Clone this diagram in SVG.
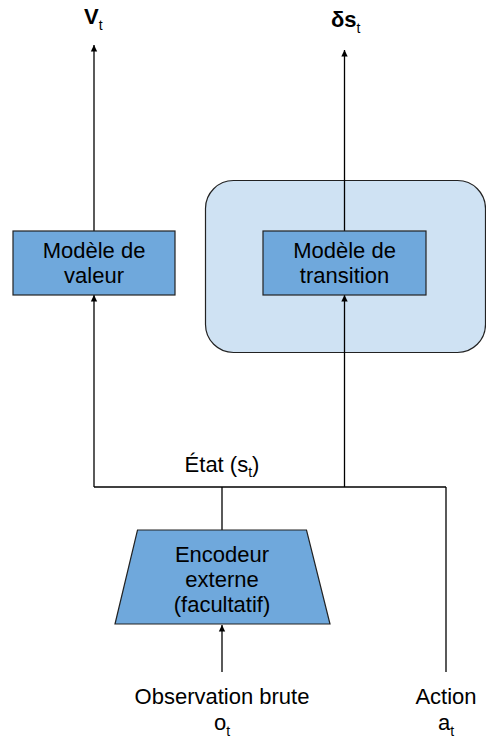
<svg xmlns="http://www.w3.org/2000/svg" width="486" height="740" viewBox="0 0 486 740">
  <defs>
    <marker id="arrowHead" viewBox="0 0 8 10" refX="8" refY="5" markerWidth="8" markerHeight="8" orient="auto" markerUnits="userSpaceOnUse">
      <path d="M0,1 L8,5 L0,9 z" fill="#000"/>
    </marker>
  </defs>
  <style>
    .lbl { font-family: "Liberation Sans", Arial, sans-serif; font-size: 22px; fill: #000; text-anchor: middle; }
    .title { font-family: "Liberation Sans", Arial, sans-serif; font-size: 22px; font-weight: bold; fill: #000; }
    .sub { font-size: 14px; font-weight: normal; }
    .box { fill: #6fa8dc; stroke: #222; stroke-width: 1.2; }
    .group { fill: #cfe2f3; stroke: #222; stroke-width: 1.2; }
    .wire { fill: none; stroke: #000; stroke-width: 1.3; }
  </style>

  <rect x="0" y="0" width="486" height="740" fill="#fff"/>

  <!-- container around the transition model -->
  <g id="transition-group">
    <rect class="group" x="205.5" y="180.5" width="280" height="172" rx="28" ry="28"/>
  </g>

  <!-- connectors -->
  <g id="connectors">
    <!-- outputs -->
    <line class="wire" x1="94" y1="231" x2="94" y2="45" marker-end="url(#arrowHead)"/>
    <line class="wire" x1="344.5" y1="231" x2="344.5" y2="50" marker-end="url(#arrowHead)"/>
    <!-- state bus -->
    <polyline class="wire" points="94,487 446,487"/>
    <line class="wire" x1="94" y1="487" x2="94" y2="295" marker-end="url(#arrowHead)"/>
    <line class="wire" x1="344.5" y1="487" x2="344.5" y2="295" stroke-width="2" marker-end="url(#arrowHead)"/>
    <line class="wire" x1="222" y1="487" x2="222" y2="530"/>
    <!-- inputs -->
    <line class="wire" x1="222" y1="672" x2="222" y2="625" marker-end="url(#arrowHead)"/>
    <line class="wire" x1="446" y1="672" x2="446" y2="487"/>
  </g>

  <g id="value-model">
    <rect class="box" x="13" y="231" width="162" height="64"/>
    <text class="lbl" x="94" y="258">Modèle de</text>
    <text class="lbl" x="94" y="283">valeur</text>
  </g>

  <g id="transition-model">
    <rect class="box" x="263" y="231" width="163" height="64"/>
    <text class="lbl" x="344.5" y="258">Modèle de</text>
    <text class="lbl" x="344.5" y="283">transition</text>
  </g>

  <g id="encoder">
    <polygon class="box" points="137.5,530 306.5,530 330,624 115,624"/>
    <text class="lbl" x="222" y="562">Encodeur</text>
    <text class="lbl" x="222" y="587">externe</text>
    <text class="lbl" x="222" y="612">(facultatif)</text>
  </g>

  <g id="value-output">
    <text class="title" x="84" y="24">V<tspan class="sub" dy="6">t</tspan></text>
  </g>

  <g id="transition-output">
    <text class="title" x="331" y="27">δs<tspan class="sub" dy="6">t</tspan></text>
  </g>

  <g id="state-label">
    <text class="lbl" x="222" y="472">État (s<tspan class="sub" dy="5">t</tspan><tspan dy="-5">)</tspan></text>
  </g>

  <g id="observation">
    <text class="lbl" x="222" y="704">Observation brute</text>
    <text class="lbl" x="222" y="730">o<tspan class="sub" dy="6">t</tspan></text>
  </g>

  <g id="action">
    <text class="lbl" x="446" y="704">Action</text>
    <text class="lbl" x="446" y="730">a<tspan class="sub" dy="6">t</tspan></text>
  </g>
</svg>
